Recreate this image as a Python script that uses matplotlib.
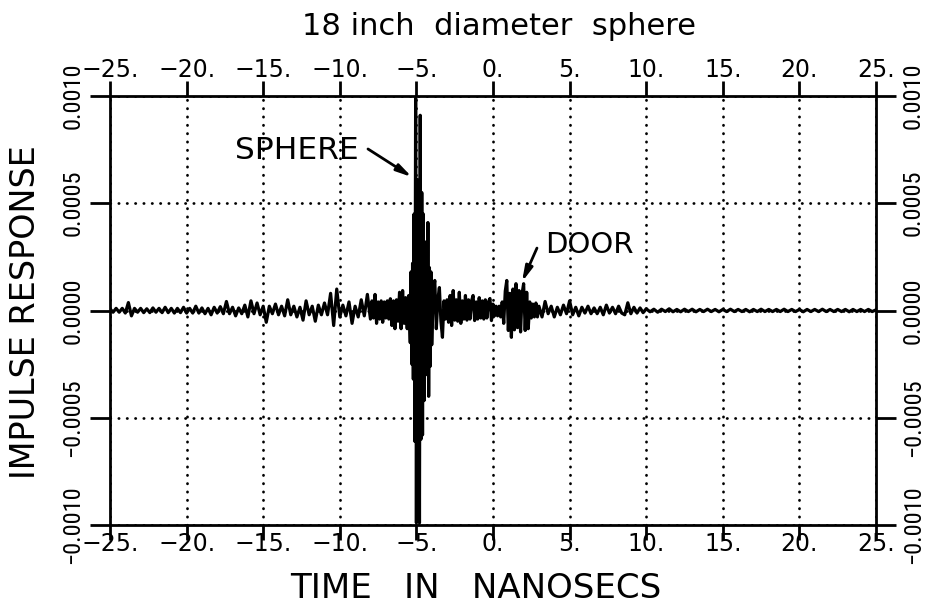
import matplotlib
matplotlib.use("Agg")
import matplotlib.pyplot as plt
import numpy as np
from matplotlib import font_manager
from matplotlib.font_manager import FontProperties
from matplotlib.transforms import ScaledTranslation

# impulse response record, read in pieces; amplitudes in units of 1e-4
# each piece: first sample time (ns), sample spacing (ns), samples
early_start, early_step = -25.0, 0.2
early_noise = [
    0.08, -0.08, 0.1, -0.08, 0.1, -0.12, 0.37, -0.25, 0.1, -0.08,
    0.1, -0.1, 0.08, -0.1, 0.12, -0.08, 0.1, -0.1, 0.15, -0.1,
    0.1, -0.12, 0.1, -0.1, 0.15, -0.12, 0.1, -0.12, 0.2, -0.12,
    0.12, -0.15, 0.1, -0.2, 0.15, -0.12, 0.18, -0.15, 0.42, -0.15,
    0.15, -0.25, 0.12, -0.15, 0.25, -0.3, 0.45, -0.15, 0.35, -0.2,
    0.2, -0.55, 0.2, -0.15, 0.3, -0.2, 0.2, -0.25, 0.5, -0.2,
    0.2, -0.3, 0.15, -0.45, 0.45, -0.2, 0.2, -0.5, 0.25, -0.2,
    0.35, -0.2, 0.8, -0.7, 1.0, -0.3, 0.25, -0.25, 0.4, -0.6,
    0.2, -0.3, 0.5, -0.25, 0.75,
]

pre_start, pre_step = -8.0, 0.1
pre_echo = [
    -0.4, 0.45, -0.35, 0.75, -0.6, 0.4, -0.4, 0.45, -0.55, 0.4,
    -0.35, 0.45, -0.4, 0.55, -0.7, 0.45, -0.85, 0.5, -0.5, 0.85,
    -0.85, 0.93, -0.6, 0.6, -0.85, 0.7,
]

sphere_start, sphere_step = -5.4, 0.05
sphere_echo = [
    -1.5, 1.8, -2.5, 2.2, -3.2, 4.5, -6.1, 9.9, -9.9, 6.1,
    -6.1, 5.8, -9.9, 9.1, -6.0, 5.5, -5.8, 4.5, -4.2, 3.2,
    -3.0, 2.5, -2.8, 4.1, -4.0, 2.0, -2.6, 1.8,
]

clutter_start, clutter_step = -4.0, 0.1
clutter_door = [
    -1.6, 0.9, 1.4, -0.85, 0.5, 1.07, -0.5, -1.25, 0.45, -0.4,
    0.5, -0.55, 0.7, -0.7, 0.93, -0.45, 0.5, -0.5, 0.85, -0.6,
    0.45, -0.4, 0.7, -0.45, 0.5, -0.4, 0.45, 0.7, -0.47, 0.4,
    -0.4, 0.6, -0.35, 0.45, -0.4, 0.5, -0.35, 0.4, 0.56, -0.47,
    0.3, -0.25, 0.2, -0.25, 0.2, -0.3, 0.4, -0.6, 0.9, 1.4,
    -0.93, 0.8, -1.25, 1.0, -0.9, 1.25, -0.8, 0.93, -1.0, 0.8,
    1.25, -0.93, 0.85, -0.85, 0.4, -0.35, 0.3, -0.3, 0.35, -0.3,
]

late_start, late_step = 3.0, 0.2
late_noise = [
    0.2, -0.3, 0.42, -0.15, 0.2, -0.3, 0.15, -0.2, 0.25, -0.15,
    0.45, -0.2, 0.15, -0.25, 0.15, -0.12, 0.2, -0.15, 0.12, -0.15,
    0.15, -0.2, 0.25, -0.12, 0.15, -0.15, 0.2, -0.12, -0.2, 0.36,
    -0.15, 0.15, -0.12, 0.12, -0.1,
]

tail_start, tail_step = 10.0, 0.25
tail_noise = [
    0.08, -0.06, 0.06, -0.08, 0.06, -0.05, 0.08, -0.06, 0.05, -0.06,
    0.06, -0.05, 0.06, -0.06, 0.05, -0.05, 0.06, -0.05, 0.05, -0.06,
    0.05, -0.05, 0.06, -0.05, 0.05, -0.05, 0.05, -0.06, 0.05, -0.05,
    0.06, -0.05, 0.05, -0.05, 0.05, -0.05, 0.06, -0.05, 0.05, -0.05,
    0.05, -0.06, 0.05, -0.05, 0.05, -0.05, 0.06, -0.05, 0.05, -0.05,
    0.05, -0.05, 0.05, -0.06, 0.05, -0.05, 0.05, -0.05, 0.05, -0.05,
    0.03,
]

x_ticks = [-25, -20, -15, -10, -5, 0, 5, 10, 15, 20, 25]
x_tick_labels = ["\u221225.", "\u221220.", "\u221215.", "\u221210.", "\u22125.",
                 "0.", "5.", "10.", "15.", "20.", "25."]
y_ticks = [-0.001, -0.0005, 0.0, 0.0005, 0.001]
y_tick_labels = ["\u22120.0010", "\u22120.0005", "0.0000", "0.0005", "0.0010"]


def pick_family(names):
    for name in names:
        try:
            font_manager.findfont(FontProperties(family=name), fallback_to_default=False)
            return name
        except ValueError:
            pass
    return "DejaVu Sans"


pieces = [
    (early_start, early_step, early_noise),
    (pre_start, pre_step, pre_echo),
    (sphere_start, sphere_step, sphere_echo),
    (clutter_start, clutter_step, clutter_door),
    (late_start, late_step, late_noise),
    (tail_start, tail_step, tail_noise),
]
t = np.concatenate([t0 + dt * np.arange(len(v)) for t0, dt, v in pieces])
resp = np.concatenate([np.asarray(v) for _, _, v in pieces]) * 1e-4

plt.rcParams["font.family"] = ["DejaVu Sans"]
narrow = pick_family(["Liberation Sans Narrow", "DejaVu Sans Condensed",
                      "Roboto Condensed", "Open Sans Condensed"])
ysize = 17.5 if narrow != "DejaVu Sans" else 14

fig = plt.figure(figsize=(9.27, 6.07), dpi=100)
ax = fig.add_axes([110 / 927, 82 / 607, 766 / 927, 429 / 607])

ax.plot(t, resp, color="black", lw=2.3, zorder=3)

ax.set_xlim(-25, 25)
ax.set_ylim(-0.001, 0.001)
ax.set_xticks(x_ticks, x_tick_labels)
ax.set_yticks(y_ticks, y_tick_labels)

ax.grid(True, color="black", linestyle=(0, (0.1, 2.9)), linewidth=2,
        dash_capstyle="round")
ax.set_axisbelow(True)

for sp in ax.spines.values():
    sp.set_linewidth(2.0)

ax.tick_params(axis="x", direction="out", length=11, width=2, top=True,
               labeltop=True, labelsize=17, pad=-1)
ax.tick_params(axis="y", direction="out", length=14.5, width=2, right=True,
               labelright=True, labelsize=ysize, pad=4, labelrotation=90)

# bottom labels sit tucked up against the ticks
lift = ScaledTranslation(0, 5 / 72, fig.dpi_scale_trans)
for tk in ax.xaxis.get_major_ticks():
    tk.label1.set_transform(tk.label1.get_transform() + lift)
for tk in ax.yaxis.get_major_ticks():
    for lab in (tk.label1, tk.label2):
        lab.set_fontfamily(narrow)
        lab.set_verticalalignment("center")

# labels for the two echoes
ax.text(-12.8, 0.000748, "SPHERE", fontsize=22.5, ha="center", va="center")
ax.annotate("", xy=(-5.29, 0.000622), xytext=(-8.16, 0.000753),
            arrowprops=dict(arrowstyle="-|>,head_length=0.9,head_width=0.22",
                            lw=2, color="black", shrinkA=0, shrinkB=0))
ax.text(6.27, 0.000305, "DOOR", fontsize=21, ha="center", va="center")
ax.annotate("", xy=(1.89, 0.000133), xytext=(2.87, 0.000291),
            arrowprops=dict(arrowstyle="-|>,head_length=0.9,head_width=0.22",
                            lw=2, color="black", shrinkA=0, shrinkB=0))

fig.text(499 / 927, 1 - 35 / 607, "18 inch  diameter  sphere", fontsize=22,
         ha="center", va="baseline")
fig.text(476 / 927, 1 - 598 / 607, "TIME   IN   NANOSECS", fontsize=24.5,
         ha="center", va="baseline")
fig.text(26 / 927, 1 - 312 / 607, "IMPULSE RESPONSE", fontsize=24,
         rotation=90, ha="center", va="center")

fig.savefig("out.png", dpi=100, facecolor="white")
